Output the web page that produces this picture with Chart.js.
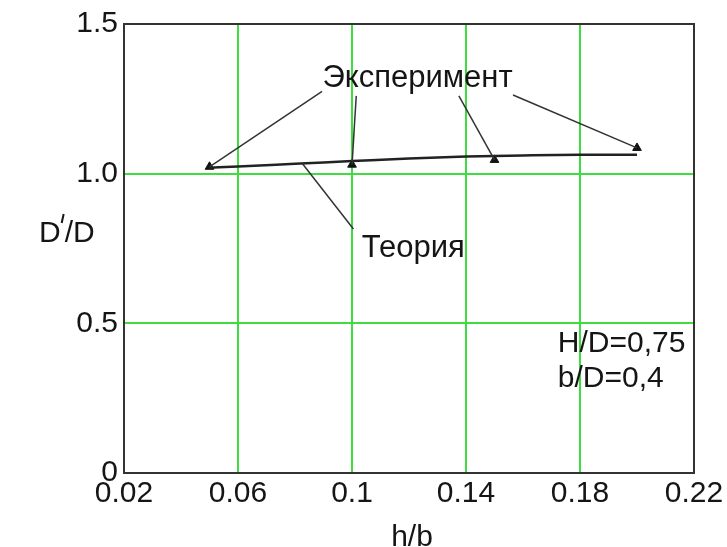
<!DOCTYPE html>
<html>
<head>
<meta charset="utf-8">
<script src="https://cdn.jsdelivr.net/npm/chart.js@4/dist/chart.umd.min.js"></script>
<style>
  html, body { margin: 0; padding: 0; background: #fff; }
  #wrap { width: 727px; height: 547px; position: relative; }
</style>
</head>
<body>
<div id="wrap"><canvas id="chart"></canvas></div>
<script>
// values
const xTicks = [0.02, 0.06, 0.1, 0.14, 0.18, 0.22];
const xTickLabels = ["0.02", "0.06", "0.1", "0.14", "0.18", "0.22"];
const yTicks = [0, 0.5, 1.0, 1.5];
const yTickLabels = ["0", "0.5", "1.0", "1.5"];

const theoryX = [0.05, 0.06, 0.08, 0.1, 0.12, 0.14, 0.16, 0.18, 0.2];
const theoryY = [1.02, 1.024, 1.033, 1.042, 1.051, 1.057, 1.061, 1.063, 1.063];

const expX = [0.05, 0.1, 0.15, 0.2];
const expY = [1.023, 1.03, 1.046, 1.086];

// callouts in data units: label position and leader line starts
const expLabel = { text: "Эксперимент", x: 0.123, y: 1.318 };
const expLeaderStarts = [[0.0895, 1.275], [0.1015, 1.26], [0.1375, 1.26], [0.1565, 1.263]];
const theoryLabel = { text: "Теория", x: 0.1215, y: 0.75 };
const theoryLeader = [[0.0825, 1.035], [0.1005, 0.815]];
const noteLines = ["H/D=0,75", "b/D=0,4"];
const noteAt = { x: 0.1722, y: 0.432 };

const FONT = "'Liberation Sans', Arial, sans-serif";
const GREEN = "#3fdc3f";
const INK = "#151515";

const decor = {
  id: "decor",
  beforeDatasetsDraw(chart) {
    const { ctx, chartArea: a } = chart;
    ctx.save();
    ctx.strokeStyle = "#333";
    ctx.lineWidth = 2;
    ctx.strokeRect(a.left, a.top, a.right - a.left, a.bottom - a.top);
    ctx.restore();
  },
  afterDatasetsDraw(chart) {
    const { ctx, scales } = chart;
    const px = v => scales.x.getPixelForValue(v);
    const py = v => scales.y.getPixelForValue(v);
    ctx.save();
    ctx.strokeStyle = "#333";
    ctx.lineWidth = 1.5;
    expLeaderStarts.forEach((s, i) => {
      ctx.beginPath();
      ctx.moveTo(px(s[0]), py(s[1]));
      ctx.lineTo(px(expX[i]), py(expY[i]));
      ctx.stroke();
    });
    ctx.beginPath();
    ctx.moveTo(px(theoryLeader[0][0]), py(theoryLeader[0][1]));
    ctx.lineTo(px(theoryLeader[1][0]), py(theoryLeader[1][1]));
    ctx.stroke();

    ctx.fillStyle = INK;
    ctx.font = "31px " + FONT;
    ctx.textAlign = "center";
    ctx.textBaseline = "middle";
    ctx.fillText(expLabel.text, px(expLabel.x), py(expLabel.y));
    ctx.fillText(theoryLabel.text, px(theoryLabel.x), py(theoryLabel.y));

    ctx.font = "30px " + FONT;
    ctx.textAlign = "left";
    noteLines.forEach((t, i) => {
      ctx.fillText(t, px(noteAt.x), py(noteAt.y) + i * 35);
    });

    // axis titles
    ctx.font = "30px " + FONT;
    ctx.textAlign = "center";
    ctx.fillText("h/b", 412, 538);
    ctx.textAlign = "left";
    ctx.fillText("D", 39, 234);
    const dw = ctx.measureText("D").width;
    ctx.lineWidth = 2;
    ctx.strokeStyle = INK;
    ctx.beginPath();
    ctx.moveTo(39 + dw + 3, 214);
    ctx.lineTo(39 + dw + 1, 223);
    ctx.stroke();
    ctx.fillText("/D", 39 + dw + 4, 234);
    ctx.restore();
  }
};

new Chart(document.getElementById("chart"), {
  type: "scatter",
  data: {
    datasets: [
      {
        label: "Теория",
        data: theoryX.map((x, i) => ({ x, y: theoryY[i] })),
        showLine: true,
        borderColor: "#222",
        borderWidth: 2.5,
        pointRadius: 0,
        cubicInterpolationMode: "monotone",
      },
      {
        label: "Эксперимент",
        data: expX.map((x, i) => ({ x, y: expY[i] })),
        showLine: false,
        pointStyle: "triangle",
        pointRadius: 5,
        backgroundColor: "#111",
        borderColor: "#111",
        borderWidth: 1,
      },
    ],
  },
  options: {
    responsive: true,
    maintainAspectRatio: false,
    animation: false,
    layout: { padding: { top: 20, right: 33, left: 0, bottom: 0 } },
    plugins: { legend: { display: false }, tooltip: { enabled: false } },
    scales: {
      x: {
        type: "linear",
        min: 0.02,
        max: 0.22,
        afterBuildTicks: s => { s.ticks = xTicks.map(v => ({ value: v })); },
        afterFit: s => { s.height = 74; },
        ticks: {
          callback: (v, i) => xTickLabels[i],
          font: { family: FONT, size: 30 },
          color: INK,
          padding: 3,
          maxRotation: 0,
          autoSkip: false,
        },
        grid: {
          color: c => (c.index === 0 || c.index === xTicks.length - 1 ? "rgba(0,0,0,0)" : GREEN),
          lineWidth: 2,
          drawTicks: false,
        },
        border: { display: false },
      },
      y: {
        type: "linear",
        min: 0,
        max: 1.5,
        afterBuildTicks: s => { s.ticks = yTicks.map(v => ({ value: v })); },
        afterFit: s => { s.width = 124; },
        ticks: {
          callback: (v, i) => yTickLabels[i],
          font: { family: FONT, size: 30 },
          color: INK,
          padding: 6,
          autoSkip: false,
        },
        grid: {
          color: c => (c.index === 0 || c.index === yTicks.length - 1 ? "rgba(0,0,0,0)" : GREEN),
          lineWidth: 2,
          drawTicks: false,
        },
        border: { display: false },
      },
    },
  },
  plugins: [decor],
});
</script>
</body>
</html>
